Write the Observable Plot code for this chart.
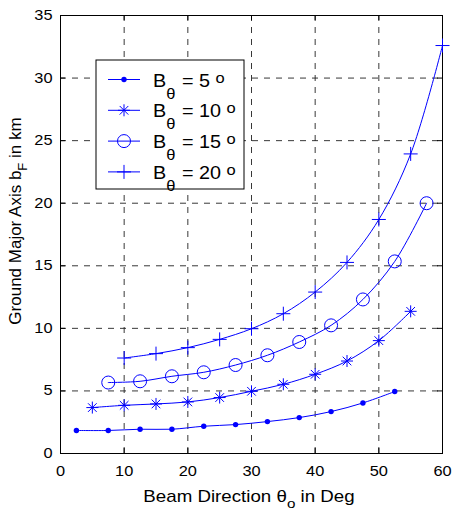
<!DOCTYPE html>
<html>
<head>
<meta charset="utf-8">
<script src="https://cdn.jsdelivr.net/npm/d3@7"></script>
<script src="https://cdn.jsdelivr.net/npm/@observablehq/plot@0.6"></script>
<style>
  html, body { margin: 0; padding: 0; background: #fff; }
  #chart { position: relative; width: 454px; height: 513px; }
</style>
</head>
<body>
<div id="chart"></div>
<script>
// ---- data ----
const xTicks = [0, 10, 20, 30, 40, 50, 60];
const yTicks = [0, 5, 10, 15, 20, 25, 30, 35];

const x5  = [2.5, 7.5, 12.5, 17.5, 22.5, 27.5, 32.5, 37.5, 42.5, 47.5, 52.5];
const y5  = [1.84, 1.84, 1.94, 1.94, 2.18, 2.31, 2.55, 2.87, 3.35, 4.04, 4.95];
const x10 = [5, 10, 15, 20, 25, 30, 35, 40, 45, 50, 55];
const y10 = [3.67, 3.85, 3.96, 4.12, 4.47, 4.97, 5.53, 6.33, 7.39, 9.02, 11.36];
const x15 = [7.5, 12.5, 17.5, 22.5, 27.5, 32.5, 37.5, 42.5, 47.5, 52.5, 57.5];
const y15 = [5.67, 5.77, 6.17, 6.49, 7.07, 7.85, 8.91, 10.24, 12.31, 15.35, 20.0];
const x20 = [10, 15, 20, 25, 30, 35, 40, 45, 50, 55, 60];
const y20 = [7.63, 7.98, 8.46, 9.12, 9.97, 11.17, 12.9, 15.27, 18.7, 23.94, 32.6];

const seriesNames = ["5", "10", "15", "20"];
const seriesX = [x5, x10, x15, x20];
const seriesY = [y5, y10, y15, y20];

// ---- build table ----
const rows = [];
seriesNames.forEach((s, i) => seriesX[i].forEach((x, j) => rows.push({series: s, x, y: seriesY[i][j]})));
const bySeries = s => rows.filter(d => d.series === s);

const BLUE = "#0000ff";

// MATLAB-like marker symbols
const starSym = {draw(ctx, size) {
  const r = Math.sqrt(size / Math.PI);
  const d = r * 0.72;
  ctx.moveTo(-r, 0); ctx.lineTo(r, 0);
  ctx.moveTo(0, -r); ctx.lineTo(0, r);
  ctx.moveTo(-d, -d); ctx.lineTo(d, d);
  ctx.moveTo(-d, d); ctx.lineTo(d, -d);
}};
const plusSym = {draw(ctx, size) {
  const r = Math.sqrt(size / Math.PI);
  ctx.moveTo(-r, 0); ctx.lineTo(r, 0);
  ctx.moveTo(0, -r); ctx.lineTo(0, r);
}};

const W = 454, H = 513, ML = 60, MR = 12, MT = 15, MB = 60;
const innerW = W - ML - MR, innerH = H - MT - MB;

const chart = Plot.plot({
  width: W, height: H,
  marginLeft: ML, marginRight: MR, marginTop: MT, marginBottom: MB,
  style: {fontFamily: "'Liberation Sans', Arial, sans-serif", fontSize: "14px", background: "#fff", color: "#000"},
  x: {domain: [0, 60]},
  y: {domain: [0, 35]},
  marks: [
    Plot.gridX(xTicks.slice(1, -1), {stroke: "#222", strokeOpacity: 0.9, strokeDasharray: "6,6"}),
    Plot.gridY(yTicks.slice(1, -1), {stroke: "#222", strokeOpacity: 0.9, strokeDasharray: "6,6"}),
    // inner tick marks (MATLAB style)
    Plot.tickX(xTicks, {x: d => d, stroke: "#000", insetTop: innerH - 5}),
    Plot.tickX(xTicks, {x: d => d, stroke: "#000", insetBottom: innerH - 5}),
    Plot.tickY(yTicks, {y: d => d, stroke: "#000", insetRight: innerW - 5}),
    Plot.tickY(yTicks, {y: d => d, stroke: "#000", insetLeft: innerW - 5}),
    Plot.axisX(xTicks, {tickSize: 0, tickPadding: 13, label: null, fontSize: 14}),
    Plot.axisY(yTicks, {tickSize: 0, tickPadding: 8, label: null, fontSize: 14}),
    Plot.frame({stroke: "#000", strokeWidth: 1}),
    ...seriesNames.map(s => Plot.line(bySeries(s), {x: "x", y: "y", stroke: BLUE, strokeWidth: 1, curve: "catmull-rom"})),
    Plot.dot(bySeries("5"), {x: "x", y: "y", r: 2.7, fill: BLUE, stroke: "none", symbol: "circle"}),
    Plot.dot(bySeries("10"), {x: "x", y: "y", r: 6, fill: "none", stroke: BLUE, strokeWidth: 1, symbol: starSym}),
    Plot.dot(bySeries("15"), {x: "x", y: "y", r: 6.5, fill: "none", stroke: BLUE, strokeWidth: 1, symbol: "circle"}),
    Plot.dot(bySeries("20"), {x: "x", y: "y", r: 7, fill: "none", stroke: BLUE, strokeWidth: 1, symbol: plusSym})
  ]
});

document.getElementById("chart").appendChild(chart);

const svg = d3.select(chart);
const FONT = "'Liberation Sans', Arial, sans-serif";

// widen tick labels slightly (the reference type is horizontally wide)
svg.selectAll("text").each(function() {
  const t = this.getAttribute("transform");
  if (t) this.setAttribute("transform", `${t} scale(1.17,1)`);
});

// ---- axis labels with sub/superscripts ----
const xl = svg.append("text")
  .attr("transform", `translate(${ML + innerW / 2 - 2},502) scale(1.17,1)`)
  .attr("text-anchor", "middle").attr("font-family", FONT).attr("font-size", 16).attr("fill", "#000");
xl.append("tspan").text("Beam Direction \u03b8");
xl.append("tspan").attr("font-size", 13).attr("dy", 6).text("o");
xl.append("tspan").attr("dy", -6).text(" in Deg");

const yl = svg.append("text")
  .attr("transform", "translate(21,221) rotate(-90)")
  .attr("text-anchor", "middle").attr("font-family", FONT).attr("font-size", 17).attr("fill", "#000");
yl.append("tspan").text("Ground Major Axis b");
yl.append("tspan").attr("font-size", 13).attr("dy", 6).text("F");
yl.append("tspan").attr("dy", -6).text(" in km");

// ---- legend ----
const lg = svg.append("g").attr("transform", "translate(96,60)");
lg.append("rect").attr("x", 0).attr("y", 0).attr("width", 148).attr("height", 129)
  .attr("fill", "#fff").attr("stroke", "#000").attr("stroke-width", 1);
const symbols = [
  {sym: d3.symbolCircle, r: 2.7, fill: BLUE, stroke: "none"},
  {sym: starSym, r: 6, fill: "none", stroke: BLUE},
  {sym: d3.symbolCircle, r: 6.5, fill: "none", stroke: BLUE},
  {sym: plusSym, r: 7, fill: "none", stroke: BLUE}
];
seriesNames.forEach((s, i) => {
  const cy = 19.5 + i * 30.8;
  const g = lg.append("g").attr("transform", `translate(0,${cy})`);
  g.append("line").attr("x1", 12).attr("x2", 44).attr("y1", 0).attr("y2", 0).attr("stroke", BLUE).attr("stroke-width", 1);
  const sm = symbols[i];
  g.append("path").attr("transform", "translate(28,0)")
    .attr("d", d3.symbol(sm.sym, Math.PI * sm.r * sm.r)())
    .attr("fill", sm.fill).attr("stroke", sm.stroke).attr("stroke-width", 1);
  const t = g.append("text").attr("transform", "translate(57,7) scale(1.1,1)").attr("text-anchor", "start")
    .attr("font-family", FONT).attr("font-size", 18).attr("fill", "#000");
  t.append("tspan").text("B");
  t.append("tspan").attr("font-size", 15).attr("dy", 12).text("\u03b8");
  t.append("tspan").attr("dy", -12).attr("dx", 1).text(" = " + s + " ");
  t.append("tspan").attr("font-size", 15).attr("dy", -4).text("o");
});
</script>
</body>
</html>
